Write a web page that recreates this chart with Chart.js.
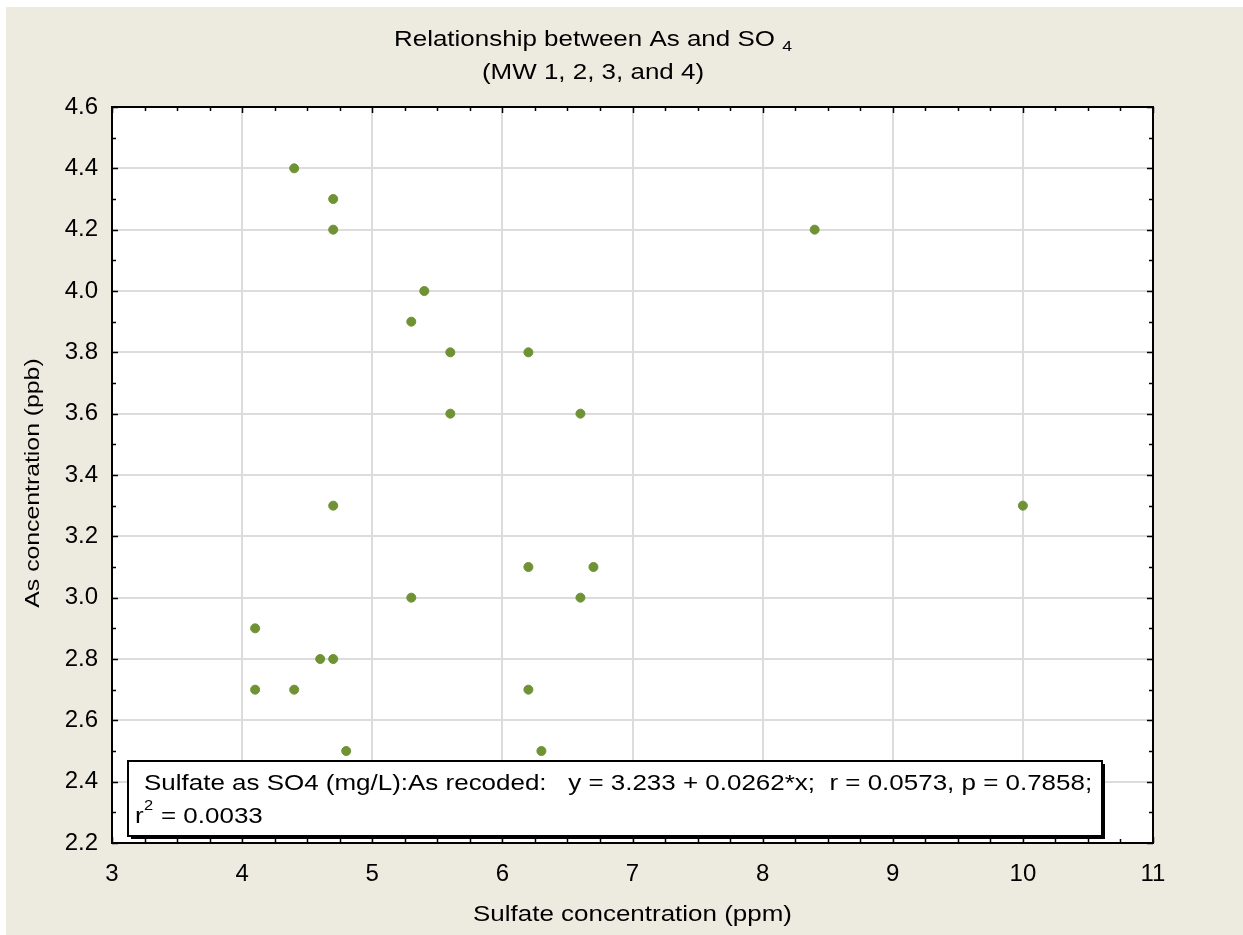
<!DOCTYPE html>
<html>
<head>
<meta charset="utf-8">
<script src="https://cdn.jsdelivr.net/npm/chart.js@4.4.0/dist/chart.umd.min.js"></script>
<style>
  html, body { margin: 0; padding: 0; background: #fff; }
  #wrap { width: 1243px; height: 935px; }
</style>
</head>
<body>
<div id="wrap"><canvas id="chart1" width="1243" height="935"></canvas></div>
<script>
// Sulfate (ppm) vs As (ppb), MW 1-4
const sulfate = [4.4, 4.7, 4.7, 8.4, 5.4, 5.3, 5.6, 6.2, 5.6, 6.6, 4.7, 10.0, 6.2, 6.7, 5.3, 6.6, 4.1, 4.6, 4.7, 4.1, 4.4, 6.2, 4.8, 6.3];
const arsenic = [4.4, 4.3, 4.2, 4.2, 4.0, 3.9, 3.8, 3.8, 3.6, 3.6, 3.3, 3.3, 3.1, 3.1, 3.0, 3.0, 2.9, 2.8, 2.8, 2.7, 2.7, 2.7, 2.5, 2.5];
const xRange = [3, 11];
const yRange = [2.2, 4.6];
const titleLines = ['Relationship between As and SO', '(MW 1, 2, 3, and 4)'];
const statLine1 = 'Sulfate as SO4 (mg/L):As recoded:   y = 3.233 + 0.0262*x;  r = 0.0573, p = 0.7858;';
const statLine2 = '= 0.0033';

const FONT = '"Liberation Sans", Arial, sans-serif';
const STRETCH = 1.18;
const points = sulfate.map((x, i) => ({ x: x, y: arsenic[i] }));

// text is a bit wide in the original, so stretch it horizontally
function wideText(ctx, text, x, y, size, align) {
  ctx.save();
  ctx.font = size + 'px ' + FONT;
  ctx.textBaseline = 'middle';
  ctx.textAlign = align || 'left';
  ctx.translate(x, y);
  ctx.scale(STRETCH, 1);
  ctx.fillText(text, 0, 0);
  ctx.restore();
}
function wideWidth(ctx, text, size) {
  ctx.save();
  ctx.font = size + 'px ' + FONT;
  const w = ctx.measureText(text).width * STRETCH;
  ctx.restore();
  return w;
}

const decor = {
  id: 'decor',
  beforeDraw(chart) {
    const ctx = chart.ctx;
    ctx.save();
    ctx.fillStyle = '#ffffff';
    ctx.fillRect(0, 0, chart.width, chart.height);
    ctx.fillStyle = '#edeae0';
    ctx.fillRect(6, 7, chart.width - 6, chart.height - 7);
    const a = chart.chartArea;
    ctx.fillStyle = '#ffffff';
    ctx.fillRect(a.left, a.top, a.right - a.left, a.bottom - a.top);
    ctx.restore();
  },
  afterDatasetsDraw(chart) {
    const ctx = chart.ctx;
    const a = chart.chartArea;
    const xs = chart.scales.x, ys = chart.scales.y;
    ctx.save();
    // frame
    ctx.strokeStyle = '#000';
    ctx.lineWidth = 2;
    ctx.strokeRect(a.left, a.top, a.right - a.left, a.bottom - a.top);
    // inward ticks on all sides
    ctx.lineWidth = 1.5;
    ctx.beginPath();
    for (let v = xRange[0]; v <= xRange[1] + 1e-9; v += 0.25) {
      const px = Math.round(xs.getPixelForValue(v)) + 0.5;
      const len = Math.abs(v - Math.round(v)) < 1e-6 ? 6 : 4;
      ctx.moveTo(px, a.bottom); ctx.lineTo(px, a.bottom - len);
      ctx.moveTo(px, a.top); ctx.lineTo(px, a.top + len);
    }
    for (let v = yRange[0]; v <= yRange[1] + 1e-9; v += 0.1) {
      const py = Math.round(ys.getPixelForValue(v)) + 0.5;
      const major = Math.abs(v * 5 - Math.round(v * 5)) < 1e-6;
      const len = major ? 6 : 4;
      ctx.moveTo(a.left, py); ctx.lineTo(a.left + len, py);
      ctx.moveTo(a.right, py); ctx.lineTo(a.right - len, py);
    }
    ctx.stroke();

    // title with subscript
    ctx.fillStyle = '#000';
    const w1 = wideWidth(ctx, titleLines[0] + ' ', 22);
    const ws = wideWidth(ctx, '4', 15);
    const cx = 593;
    const startX = cx - (w1 + ws) / 2;
    wideText(ctx, titleLines[0] + ' ', startX, 40, 22);
    wideText(ctx, '4', startX + w1, 47, 15);
    wideText(ctx, titleLines[1], cx, 73, 22, 'center');

    // axis titles
    wideText(ctx, 'Sulfate concentration (ppm)', (a.left + a.right) / 2, 915, 22, 'center');
    ctx.save();
    ctx.translate(33, 483);
    ctx.rotate(-Math.PI / 2);
    wideText(ctx, 'As concentration (ppb)', 0, 0, 21, 'center');
    ctx.restore();

    // stats box
    const bx = 128, by = 761, bw = 974, bh = 75;
    ctx.fillStyle = '#000';
    ctx.fillRect(bx + 3, by + 3, bw, bh);
    ctx.fillStyle = '#fff';
    ctx.fillRect(bx, by, bw, bh);
    ctx.lineWidth = 2;
    ctx.strokeStyle = '#000';
    ctx.strokeRect(bx, by, bw, bh);
    ctx.fillStyle = '#000';
    wideText(ctx, statLine1, 144, 784, 22);
    wideText(ctx, 'r', 135, 817, 22);
    wideText(ctx, '2', 144, 806, 14);
    wideText(ctx, statLine2, 161, 817, 22);
    ctx.restore();
  }
};

new Chart(document.getElementById('chart1'), {
  type: 'scatter',
  data: {
    datasets: [{
      label: 'As vs SO4',
      data: points,
      backgroundColor: '#6f9234',
      borderColor: '#6f9234',
      pointRadius: 4.5,
      pointHoverRadius: 4.5
    }]
  },
  options: {
    responsive: false,
    animation: false,
    layout: { padding: { top: 107, right: 90, bottom: 0, left: 0 } },
    plugins: {
      legend: { display: false },
      tooltip: { enabled: false },
      title: { display: false }
    },
    scales: {
      x: {
        type: 'linear',
        min: xRange[0],
        max: xRange[1],
        afterFit(scale) { scale.height = 92; },
        ticks: { stepSize: 1, color: '#000', padding: 17, font: { size: 24, family: FONT } },
        grid: { color: '#dcdcdc', lineWidth: 2, drawTicks: false },
        border: { display: false }
      },
      y: {
        type: 'linear',
        min: yRange[0],
        max: yRange[1],
        afterFit(scale) { scale.width = 112; },
        ticks: { stepSize: 0.2, color: '#000', padding: 14, font: { size: 24, family: FONT },
          callback: v => v.toFixed(1) },
        grid: { color: '#dcdcdc', lineWidth: 2, drawTicks: false },
        border: { display: false }
      }
    }
  },
  plugins: [decor]
});
</script>
</body>
</html>
